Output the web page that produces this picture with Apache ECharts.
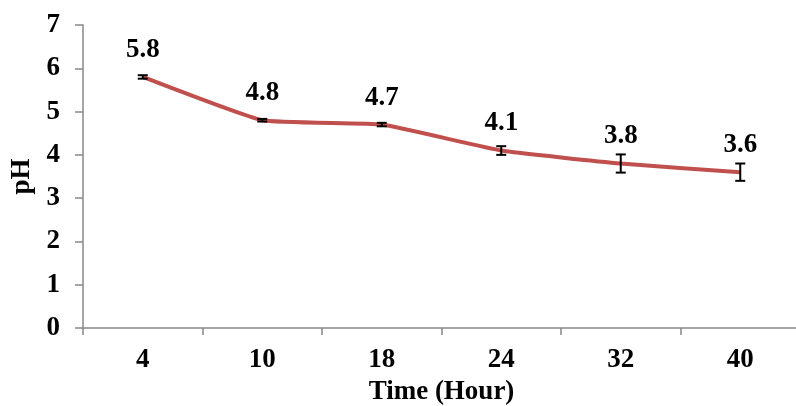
<!DOCTYPE html>
<html>
<head>
<meta charset="utf-8">
<script src="https://cdn.jsdelivr.net/npm/echarts@6/dist/echarts.min.js"></script>
<style>html,body{margin:0;padding:0;background:#fff}#c{width:796px;height:406px}</style>
</head>
<body>
<div id="c"></div>
<script>
var categories = ['4', '10', '18', '24', '32', '40'];
var phValues = [5.8, 4.8, 4.7, 4.1, 3.8, 3.6];
var phErrors = [0.04, 0.03, 0.04, 0.1, 0.21, 0.2];
var yTicks = [0, 1, 2, 3, 4, 5, 6, 7];

var font = '"Liberation Serif", "Times New Roman", serif';
var chart = echarts.init(document.getElementById('c'));
var errData = phValues.map(function (v, i) { return [i, v - phErrors[i], v + phErrors[i]]; });

chart.setOption({
  animation: false,
  grid: { left: 83, right: -4, top: 25, bottom: 78, containLabel: false, outerBoundsMode: 'none' },
  xAxis: {
    type: 'category',
    data: categories,
    boundaryGap: true,
    name: 'Time (Hour)',
    nameLocation: 'middle',
    nameGap: 39,
    nameTextStyle: { fontFamily: font, fontWeight: 'bold', fontSize: 27, color: '#000' },
    axisLine: { lineStyle: { color: '#888', width: 1.5 } },
    axisTick: { show: true, length: 7, lineStyle: { color: '#888', width: 1.5 } },
    axisLabel: { margin: 19, fontFamily: font, fontWeight: 'bold', fontSize: 27, color: '#000' }
  },
  yAxis: {
    type: 'value',
    min: yTicks[0],
    max: yTicks[yTicks.length - 1],
    interval: 1,
    name: 'pH',
    nameLocation: 'middle',
    nameGap: 40,
    nameTextStyle: { fontFamily: font, fontWeight: 'bold', fontSize: 27, color: '#000' },
    axisLine: { show: true, lineStyle: { color: '#888', width: 1.5 } },
    axisTick: { show: true, length: 8, lineStyle: { color: '#888', width: 1.5 } },
    splitLine: { show: false },
    axisLabel: { margin: 23, fontFamily: font, fontWeight: 'bold', fontSize: 27, color: '#000' }
  },
  series: [
    {
      type: 'line',
      data: phValues,
      smooth: 0.12,
      showSymbol: true,
      symbol: 'circle',
      symbolSize: 1,
      itemStyle: { color: 'rgba(0,0,0,0)' },
      lineStyle: { color: '#C0504D', width: 4 },
      label: {
        show: true, position: 'top', distance: 13,
        fontFamily: font, fontWeight: 'bold', fontSize: 27, color: '#000',
        formatter: function (p) { return p.value.toFixed(1); }
      },
      labelLayout: { hideOverlap: false },
      z: 2
    },
    {
      type: 'custom',
      data: errData,
      z: 3,
      renderItem: function (params, api) {
        var x = api.value(0);
        var lo = api.coord([x, api.value(1)]);
        var hi = api.coord([x, api.value(2)]);
        var hw = 5;
        var st = { stroke: '#000', lineWidth: 2 };
        return {
          type: 'group',
          children: [
            { type: 'line', shape: { x1: lo[0], y1: lo[1], x2: hi[0], y2: hi[1] }, style: st },
            { type: 'line', shape: { x1: lo[0] - hw, y1: lo[1], x2: lo[0] + hw, y2: lo[1] }, style: st },
            { type: 'line', shape: { x1: hi[0] - hw, y1: hi[1], x2: hi[0] + hw, y2: hi[1] }, style: st }
          ]
        };
      }
    }
  ]
});
</script>
</body>
</html>
